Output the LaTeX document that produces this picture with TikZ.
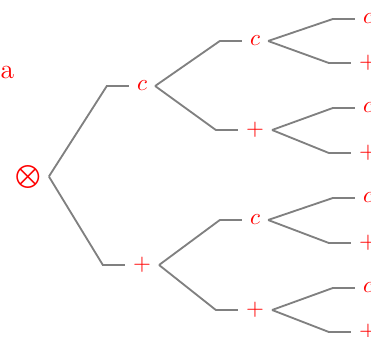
\documentclass[tikz,border=0pt]{standalone}
\begin{document}
\begin{tikzpicture}[x=0.4348pt,y=-0.4348pt,
  lab/.style={text=red, inner sep=0.333em},
  branch/.style={draw=gray, thick}]
\useasboundingbox (0,0) rectangle (371,337);
\node[lab, font=\large] (tag) at (7.5,72) {a};
\node[lab] (r) at (28,176.5) {$\bigotimes$};
\node[lab] (n1) at (142,86) {$c$};
\node[lab] (n2) at (142,265) {$+$};
\node[lab] (n11) at (255,41) {$c$};
\node[lab] (n12) at (255,130) {$+$};
\node[lab] (n21) at (255,220) {$c$};
\node[lab] (n22) at (255,310) {$+$};
\node[lab] (l1) at (368,19) {$c$};
\node[lab] (l2) at (368,63) {$+$};
\node[lab] (l3) at (368,108) {$c$};
\node[lab] (l4) at (368,153) {$+$};
\node[lab] (l5) at (368,198) {$c$};
\node[lab] (l6) at (368,243) {$+$};
\node[lab] (l7) at (368,288) {$c$};
\node[lab] (l8) at (368,332) {$+$};
\foreach \p/\c in {r/n1, r/n2, n1/n11, n1/n12, n2/n21, n2/n22,
  n11/l1, n11/l2, n12/l3, n12/l4, n21/l5, n21/l6, n22/l7, n22/l8}
  \draw[branch] (\p.east) -- ([xshift=-9.6pt]\c.west) -- (\c.west);
\end{tikzpicture}
\end{document}
